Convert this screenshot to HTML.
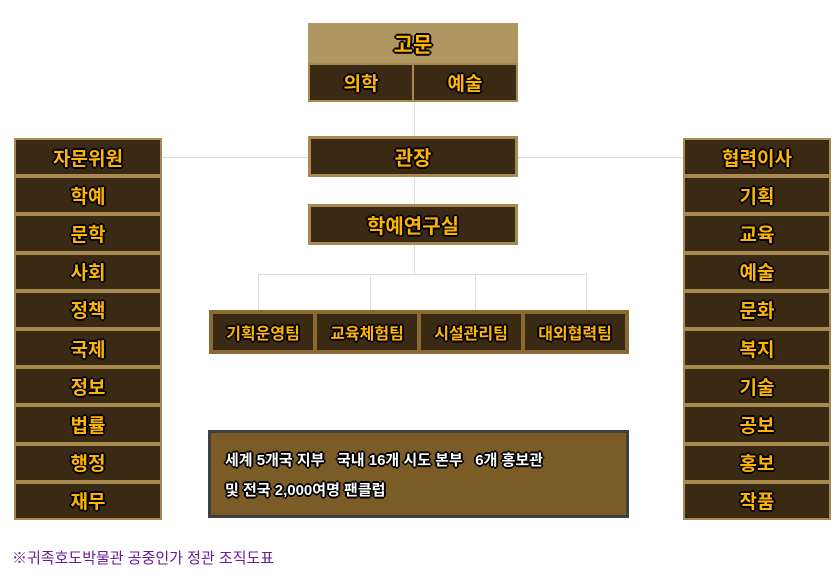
<!DOCTYPE html>
<html><head><meta charset="utf-8"><style>
body{margin:0;width:840px;height:584px;background:#fff;position:relative;overflow:hidden;font-family:"Liberation Sans","Noto Sans CJK KR","NanumGothic",sans-serif;}
.b{position:absolute;box-sizing:border-box;background:#3a2a14;border:2px solid #a88a50;color:#ffb400;font-weight:bold;display:flex;align-items:center;justify-content:center;
text-shadow:-1px -1px 0 #000,1px -1px 0 #000,-1px 1px 0 #000,1px 1px 0 #000,0 2px 0 #000,2px 0 0 #000,-2px 0 0 #000,0 -2px 0 #000;}
.l{position:absolute;background:#ddd;}
.col{position:absolute;width:148px;top:138px;}
.col .b{position:relative;width:148px;height:38.2px;font-size:19px;margin:0;}
</style></head><body>
<div class="l" style="left:414px;top:101px;width:1px;height:173px"></div>
<div class="l" style="left:258px;top:274px;width:328px;height:1px"></div>
<div class="l" style="left:258px;top:274px;width:1px;height:36px"></div>
<div class="l" style="left:370px;top:274px;width:1px;height:36px"></div>
<div class="l" style="left:475px;top:274px;width:1px;height:36px"></div>
<div class="l" style="left:586px;top:274px;width:1px;height:36px"></div>
<div class="l" style="left:162px;top:157px;width:146px;height:1px"></div>
<div class="l" style="left:518px;top:157px;width:165px;height:1px"></div>

<div class="b" style="left:308px;top:23px;width:210px;height:42px;background:#b09660;border:none;font-size:21px">고문</div>
<div style="position:absolute;left:308px;top:63px;width:210px;height:39px;background:#a88a50"></div>
<div class="b" style="left:310px;top:65px;width:102px;height:35px;border:none;font-size:19px">의학</div>
<div class="b" style="left:414px;top:65px;width:102px;height:35px;border:none;font-size:19px">예술</div>

<div class="b" style="left:308px;top:136px;width:210px;height:41px;border-width:3px;font-size:20px">관장</div>
<div class="b" style="left:308px;top:204px;width:210px;height:41px;border-width:3px;font-size:20px">학예연구실</div>

<div style="position:absolute;left:209px;top:310px;width:420px;height:44px;background:#8a6a30"></div>
<div class="b" style="left:213px;top:314px;width:100px;height:36px;border:none;font-size:16px">기획운영팀</div>
<div class="b" style="left:317px;top:314px;width:100px;height:36px;border:none;font-size:16px">교육체험팀</div>
<div class="b" style="left:421px;top:314px;width:100px;height:36px;border:none;font-size:16px">시설관리팀</div>
<div class="b" style="left:525px;top:314px;width:100px;height:36px;border:none;font-size:16px">대외협력팀</div>

<div class="col" style="left:14px">
<div class="b">자문위원</div><div class="b">학예</div><div class="b">문학</div><div class="b">사회</div><div class="b">정책</div><div class="b">국제</div><div class="b">정보</div><div class="b">법률</div><div class="b">행정</div><div class="b">재무</div>
</div>
<div class="col" style="left:683px">
<div class="b">협력이사</div><div class="b">기획</div><div class="b">교육</div><div class="b">예술</div><div class="b">문화</div><div class="b">복지</div><div class="b">기술</div><div class="b">공보</div><div class="b">홍보</div><div class="b">작품</div>
</div>

<div class="b" style="left:208px;top:430px;width:421px;height:88px;background:#7c5c26;border:3px solid #404040;color:#fff;font-size:15px;display:block;padding:13px 0 0 14px;line-height:30px">세계 5개국 지부 &nbsp; 국내 16개 시도 본부 &nbsp; 6개 홍보관<br>및 전국 2,000여명 팬클럽</div>

<div style="position:absolute;left:12px;top:547px;font-size:15px;color:#6a1a9a;">※귀족호도박물관 공중인가 정관 조직도표</div>
</body></html>
